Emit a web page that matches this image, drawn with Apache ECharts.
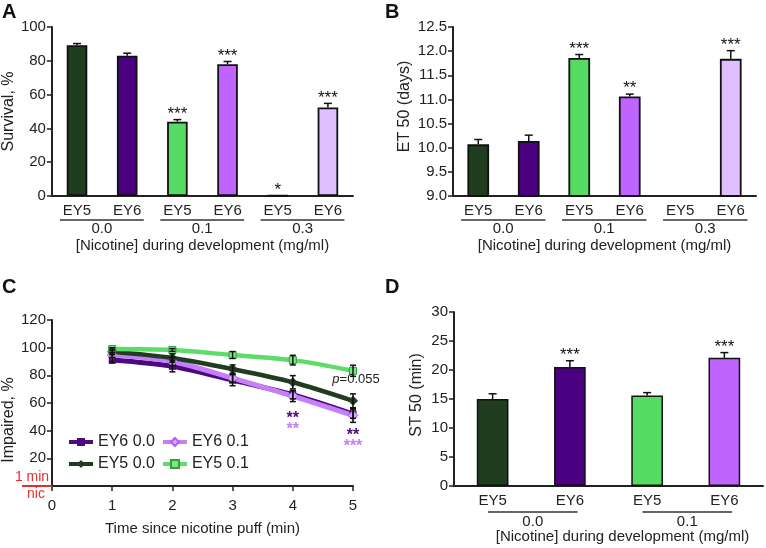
<!DOCTYPE html>
<html>
<head>
<meta charset="utf-8">
<script src="https://cdn.jsdelivr.net/npm/echarts@6/dist/echarts.min.js"></script>
<style>
  html, body { margin: 0; padding: 0; background: #fff; }
  #chart { width: 766px; height: 548px; }
</style>
</head>
<body>
<div id="chart"></div>
<script>
// 数据
var barCats6 = ["EY5", "EY6", "EY5", "EY6", "EY5", "EY6"];
var barCats4 = ["EY5", "EY6", "EY5", "EY6"];
var groups3 = ["0.0", "0.1", "0.3"];
var groups2 = ["0.0", "0.1"];

// A: survival %
var survival = [89.2, 83, 44, 78, 0.3, 52.4];
var survivalErr = [1, 1.5, 1.2, 1.6, 0, 2.4];
var survivalStars = ["", "", "***", "***", "*", "***"];

// B: ET 50 (days)
var et50 = [10.07, 10.14, 11.86, 11.06, null, 11.84];
var et50Err = [0.1, 0.12, 0.07, 0.05, 0, 0.17];
var et50Stars = ["", "", "***", "**", "", "***"];

// C: impaired %
var timeMin = [1, 2, 3, 4, 5];
var ey6_00 = [91, 86.5, 76.5, 66, 52];
var ey6_01 = [94.7, 90, 78, 65, 51];
var ey5_00 = [97, 92.5, 84.5, 75, 61.6];
var ey5_01 = [99, 98.3, 94.7, 91, 83.3];
var ey6_00Err = [2, 4, 4, 3, 3];
var ey6_01Err = [2, 3, 3, 4, 5];
var ey5_00Err = [2, 3, 3, 4.8, 5];
var ey5_01Err = [1, 1, 2.5, 3.5, 4];

// D: ST 50 (min)
var st50 = [15.0, 20.5, 15.6, 22.1];
var st50Err = [0.9, 1.1, 0.5, 0.9];
var st50Stars = ["", "***", "", "***"];

var barColors6 = ["#213d20", "#4b0082", "#56dc63", "#c064ff", "#3b4a8a", "#dfbfff"];
var barColors4 = ["#213d20", "#4b0082", "#56dc63", "#c064ff"];

var FONT = "Liberation Sans, Arial, sans-serif";
var axisColor = "#222";

function barData(vals, colors) {
  return vals.map(function (v, i) {
    return { value: v, itemStyle: { color: colors[i] } };
  });
}

// 误差线 (只画上半) + 星号
function makeErr(vals, errs, stars) {
  var data = vals.map(function (v, i) { return [i, v == null ? 0 : v, errs[i]]; });
  return {
    data: data,
    renderItem: function (params, api) {
      var i = params.dataIndex;
      if (vals[i] == null) return { type: "group", children: [] };
      var x = api.value(0), y = api.value(1), e = api.value(2);
      var base = api.coord([x, y]);
      var top = api.coord([x, y + e]);
      var ch = [];
      if (e > 0) {
        ch.push({ type: "line", shape: { x1: base[0], y1: base[1], x2: top[0], y2: top[1] },
          style: { stroke: "#111", lineWidth: 1.5 } });
        ch.push({ type: "line", shape: { x1: top[0] - 4, y1: top[1], x2: top[0] + 4, y2: top[1] },
          style: { stroke: "#111", lineWidth: 1.5 } });
      }
      if (stars[i]) {
        ch.push({ type: "text", x: top[0], y: top[1] + 3,
          style: { text: stars[i], fill: "#111", font: "17px " + FONT, align: "center", verticalAlign: "bottom" } });
      }
      return { type: "group", children: ch };
    }
  };
}

// 分组横线 + 组标签
function makeGroup(labels, yMin, k0, k1, lineOff, textOff) {
  var data = labels.map(function (l, i) { return [i * 2, i * 2 + 1]; });
  return {
    data: data,
    renderItem: function (params, api) {
      var p0 = api.coord([api.value(0), yMin]);
      var p1 = api.coord([api.value(1), yMin]);
      var band = api.size([1, 0])[0];
      var x0 = p0[0] - k0 * band, x1 = p1[0] + k1 * band;
      return { type: "group", children: [
        { type: "line", shape: { x1: x0, y1: p0[1] + lineOff, x2: x1, y2: p0[1] + lineOff },
          style: { stroke: "#333", lineWidth: 1.5 } },
        { type: "text", x: (x0 + x1) / 2, y: p0[1] + textOff,
          style: { text: labels[params.dataIndex], fill: "#222", font: "15px " + FONT, align: "center", verticalAlign: "middle" } }
      ] };
    }
  };
}

function catAxis(grid, cats, name, nameGap, namePad) {
  return {
    type: "category", gridIndex: grid, data: cats,
    axisLine: { lineStyle: { color: axisColor, width: 2 } },
    axisTick: { length: 5, lineStyle: { color: axisColor, width: 1.5 } },
    axisLabel: { color: "#222", fontSize: 15, fontFamily: FONT, margin: 7 },
    name: name, nameLocation: "middle", nameGap: nameGap,
    nameTextStyle: { color: "#222", fontSize: 15, fontFamily: FONT, padding: namePad || 0 }
  };
}

function valAxis(grid, min, max, interval, name, nameGap, fmt, namePad) {
  return {
    type: "value", gridIndex: grid, min: min, max: max, interval: interval,
    splitLine: { show: false },
    axisLine: { show: true, lineStyle: { color: axisColor, width: 2 } },
    axisTick: { show: true, length: 5, lineStyle: { color: axisColor, width: 1.5 } },
    axisLabel: { color: "#222", fontSize: 15, fontFamily: FONT, margin: 6, formatter: fmt },
    name: name, nameLocation: "middle", nameGap: nameGap,
    nameTextStyle: { color: "#222", fontSize: 16, fontFamily: FONT, padding: namePad || 0 }
  };
}

var errA = makeErr(survival, survivalErr, survivalStars);
var errB = makeErr(et50, et50Err, et50Stars);
var errD = makeErr(st50, st50Err, st50Stars);
var grpA = makeGroup(groups3, 0, 0.34, 0.33, 24, 33);
var grpB = makeGroup(groups3, 9, 0.34, 0.33, 24, 33);
var grpD = makeGroup(groups2, 0, 0.06, 0.1, 26, 36);

// C 误差线 (上下)
var cSets = [
  [ey6_00, ey6_00Err], [ey6_01, ey6_01Err], [ey5_00, ey5_00Err], [ey5_01, ey5_01Err]
];
var cErrData = [];
cSets.forEach(function (s) {
  timeMin.forEach(function (t, i) { cErrData.push([t, s[0][i], s[1][i]]); });
});

function lineData(vals) {
  return timeMin.map(function (t, i) { return [t, vals[i]]; });
}

var ey5_00Data = lineData(ey5_00);
ey5_00Data[4] = {
  value: ey5_00Data[4],
  label: { show: true, position: "top", distance: 10, offset: [3, 0],
    formatter: "{i|p}=0.055", color: "#222", fontSize: 13, fontFamily: FONT,
    rich: { i: { fontStyle: "italic", fontSize: 13, fontFamily: FONT, color: "#222" } } }
};
var ey6_01Data = lineData(ey6_01);
var starRich = {
  a: { color: "#4b0a7e", fontSize: 16, fontWeight: "bold", fontFamily: FONT, lineHeight: 11 },
  b: { color: "#c580f8", fontSize: 16, fontWeight: "bold", fontFamily: FONT, lineHeight: 11 }
};
ey6_01Data[3] = { value: ey6_01Data[3],
  label: { show: true, position: "bottom", distance: 12, formatter: "{a|**}\n{b|**}", rich: starRich } };
ey6_01Data[4] = { value: ey6_01Data[4],
  label: { show: true, position: "bottom", distance: 9, formatter: "{a|**}\n{b|***}", rich: starRich } };

var option = {
  animation: false,
  textStyle: { fontFamily: FONT },
  grid: [
    { left: 48, top: 27, right: 413, bottom: 352 },
    { left: 453, top: 27, right: 10, bottom: 352 },
    { left: 52, top: 320, right: 413, bottom: 62 },
    { left: 454, top: 312, right: 3, bottom: 62 }
  ],
  legend: {
    data: ["EY6 0.0", "EY6 0.1", "EY5 0.0", "EY5 0.1"],
    left: 62, top: 429, width: 196, itemGap: 6,
    itemWidth: 24, itemHeight: 10,
    lineStyle: { width: 4 },
    textStyle: { fontSize: 16, fontFamily: FONT, color: "#222" }
  },
  xAxis: [
    catAxis(0, barCats6, "[Nicotine] during development (mg/ml)", 42),
    catAxis(1, barCats6, "[Nicotine] during development (mg/ml)", 42),
    {
      type: "value", gridIndex: 2, min: 0, max: 5, interval: 1,
      splitLine: { show: false },
      axisLine: { lineStyle: { color: axisColor, width: 2 } },
      axisTick: { show: true, length: 5, lineStyle: { color: axisColor, width: 1.5 } },
      axisLabel: { color: "#222", fontSize: 15, fontFamily: FONT, margin: 12 },
      name: "Time since nicotine puff (min)", nameLocation: "middle", nameGap: 35,
      nameTextStyle: { color: "#222", fontSize: 15, fontFamily: FONT }
    },
    catAxis(3, barCats4, "[Nicotine] during development (mg/ml)", 43, [0, 0, 0, 28])
  ],
  yAxis: [
    valAxis(0, 0, 100, 20, "Survival, %", 30),
    valAxis(1, 9, 12.5, 0.5, "ET 50 (days)", 40, function (v) { return v.toFixed(1); }, [0, 0, 0, 10]),
    valAxis(2, 0, 120, 20, "Impaired, %", 31, function (v) { return v === 0 ? "" : v; }, [0, 34, 0, 0]),
    valAxis(3, 0, 30, 5, "ST 50 (min)", 29, null, [0, 0, 0, 8])
  ],
  series: [
    { type: "bar", xAxisIndex: 0, yAxisIndex: 0, barWidth: "41%", data: barData(survival, barColors6),
      itemStyle: { borderColor: "#111", borderWidth: 1.8 } },
    { type: "custom", xAxisIndex: 0, yAxisIndex: 0, z: 5, data: errA.data, renderItem: errA.renderItem },
    { type: "custom", xAxisIndex: 0, yAxisIndex: 0, clip: false, data: grpA.data, renderItem: grpA.renderItem },

    { type: "bar", xAxisIndex: 1, yAxisIndex: 1, barWidth: "43%", data: barData(et50, barColors6),
      itemStyle: { borderColor: "#111", borderWidth: 1.8 } },
    { type: "custom", xAxisIndex: 1, yAxisIndex: 1, z: 5, data: errB.data, renderItem: errB.renderItem },
    { type: "custom", xAxisIndex: 1, yAxisIndex: 1, clip: false, data: grpB.data, renderItem: grpB.renderItem },

    { name: "EY6 0.0", type: "line", xAxisIndex: 2, yAxisIndex: 2, smooth: 0.3, data: lineData(ey6_00),
      symbol: "rect", symbolSize: 7, color: "#4b0a7e",
      lineStyle: { width: 5, color: "#4b0a7e" }, itemStyle: { color: "#4b0a7e" } },
    { name: "EY6 0.1", type: "line", xAxisIndex: 2, yAxisIndex: 2, smooth: 0.3, data: ey6_01Data,
      symbol: "diamond", symbolSize: 10, color: "#c580f8",
      lineStyle: { width: 5, color: "#c580f8" }, itemStyle: { color: "#d9a6ff", borderColor: "#b060f0", borderWidth: 1 } },
    { name: "EY5 0.0", type: "line", xAxisIndex: 2, yAxisIndex: 2, smooth: 0.3, data: ey5_00Data,
      symbol: "diamond", symbolSize: 10, color: "#203d1f",
      lineStyle: { width: 4.5, color: "#203d1f" }, itemStyle: { color: "#203d1f" } },
    { name: "EY5 0.1", type: "line", xAxisIndex: 2, yAxisIndex: 2, smooth: 0.3, data: lineData(ey5_01),
      symbol: "rect", symbolSize: 7, color: "#5ddc6a",
      lineStyle: { width: 4.5, color: "#5ddc6a" }, itemStyle: { color: "#7be886", borderColor: "#2fa03c", borderWidth: 1 } },
    { type: "custom", xAxisIndex: 2, yAxisIndex: 2, z: 6, data: cErrData,
      renderItem: function (params, api) {
        var x = api.value(0), y = api.value(1), e = api.value(2);
        var lo = api.coord([x, y - e]), hi = api.coord([x, y + e]);
        var st = { stroke: "#111", lineWidth: 1.5 };
        return { type: "group", children: [
          { type: "line", shape: { x1: lo[0], y1: lo[1], x2: hi[0], y2: hi[1] }, style: st },
          { type: "line", shape: { x1: lo[0] - 3, y1: lo[1], x2: lo[0] + 3, y2: lo[1] }, style: st },
          { type: "line", shape: { x1: hi[0] - 3, y1: hi[1], x2: hi[0] + 3, y2: hi[1] }, style: st }
        ] };
      } },

    { type: "bar", xAxisIndex: 3, yAxisIndex: 3, barWidth: "41%", data: barData(st50, barColors4),
      itemStyle: { borderColor: "#111", borderWidth: 1.5 } },
    { type: "custom", xAxisIndex: 3, yAxisIndex: 3, z: 5, data: errD.data, renderItem: errD.renderItem },
    { type: "custom", xAxisIndex: 3, yAxisIndex: 3, clip: false, data: grpD.data, renderItem: grpD.renderItem }
  ]
};

var chart = echarts.init(document.getElementById("chart"));
chart.setOption(option);

// 面板字母与 "1 min nic" 标注
var p0 = chart.convertToPixel({ gridIndex: 2 }, [0, 0]);
var letterStyle = { fill: "#111", font: "bold 20px " + FONT };
chart.setOption({
  graphic: [
    { type: "text", left: 2, top: 2, style: Object.assign({ text: "A" }, letterStyle) },
    { type: "text", left: 385, top: 2, style: Object.assign({ text: "B" }, letterStyle) },
    { type: "text", left: 2, top: 277, style: Object.assign({ text: "C" }, letterStyle) },
    { type: "text", left: 385, top: 277, style: Object.assign({ text: "D" }, letterStyle) },
    { type: "line", shape: { x1: p0[0] - 30, y1: p0[1], x2: p0[0], y2: p0[1] },
      style: { stroke: "#e0302c", lineWidth: 2 }, z: 10 },
    { type: "text", x: p0[0] - 20, y: p0[1] - 9,
      style: { text: "1 min", fill: "#e0302c", font: "14px " + FONT, align: "center", verticalAlign: "middle" } },
    { type: "text", x: p0[0] - 16, y: p0[1] + 8,
      style: { text: "nic", fill: "#e0302c", font: "14px " + FONT, align: "center", verticalAlign: "middle" } }
  ]
});
</script>
</body>
</html>
